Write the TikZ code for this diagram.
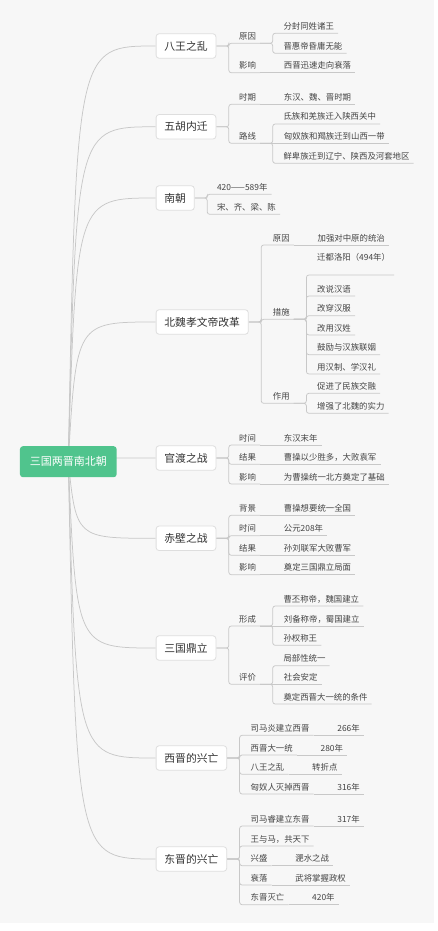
\documentclass[tikz,border=0pt]{standalone}
\usepackage{fontspec}
\setmainfont{Noto Sans CJK SC}
\usetikzlibrary{positioning,backgrounds}
\definecolor{MapPaper}{RGB}{247,247,247}
\definecolor{MapGreen}{RGB}{80,196,141}
\definecolor{MapLine}{RGB}{200,200,200}
\definecolor{MapBorder}{RGB}{222,222,222}
\definecolor{MapText}{RGB}{51,51,51}
\definecolor{MapLeaf}{RGB}{68,68,68}
\newcommand{\rootsize}{\fontsize{11}{13}\selectfont}
\newcommand{\topicsize}{\fontsize{10.8}{13}\selectfont}
\newcommand{\leafsize}{\fontsize{8.4}{10}\selectfont}
\tikzset{
  rootbox/.style={rectangle, rounded corners=3pt, fill=MapGreen, text=white,
    minimum width=96.7pt, minimum height=31pt, font=\rootsize},
  topic/.style={rectangle, rounded corners=3pt, draw=MapBorder, fill=white, line width=0.8pt,
    text=MapText, inner xsep=8.3pt, minimum height=24.5pt, anchor=west, font=\topicsize},
  leaf/.style={text=MapLeaf, inner xsep=4pt, inner ysep=1.8pt, text height=7pt, text depth=2pt,
    anchor=south west, font=\leafsize},
  link/.style={draw=MapLine, line width=0.75pt, rounded corners=2.5pt},
  fork/.style={link, to path={-- ++(12.5,0) |- (\tikztotarget.south west) -- (\tikztotarget.south east)}},
  same/.style={link, to path={-- (\tikztotarget.south east)}},
  curve/.style={link, to path={.. controls (hub |- \tikztotarget.west) .. (\tikztotarget.west)}}
}

\begin{document}
\begin{tikzpicture}[x=1pt, y=-1pt]
  \useasboundingbox (0,0) rectangle (437,931);
  \node[rootbox] (root) at (68.3,461.7) {三国两晋南北朝};
  \coordinate (hub) at (76.3,461.7);
  % topics
  \node[topic] (bw) at (155.7,46) {八王之乱};
  \node[topic] (wh) at (155.7,126.8) {五胡内迁};
  \node[topic] (nc) at (155.7,198) {南朝};
  \node[topic] (xw) at (155.7,322) {北魏孝文帝改革};
  \node[topic] (gd) at (155.7,458) {官渡之战};
  \node[topic] (cb) at (155.7,538.3) {赤壁之战};
  \node[topic] (sg) at (155.7,648) {三国鼎立};
  \node[topic] (xj) at (155.7,758) {西晋的兴亡};
  \node[topic] (dj) at (155.7,859) {东晋的兴亡};
  % 八王之乱
  \node[leaf] (bw1) at (235,43.3) {原因};
  \node[leaf] (bw11) at (279.3,33.3) {分封同姓诸王};
  \node[leaf] (bw12) at (279.3,53.3) {晋惠帝昏庸无能};
  \node[leaf] (bw2) at (235,72.7) {影响};
  \node[leaf, right=19.5pt of bw2] (bw21) {西晋迅速走向衰落};
  % 五胡内迁
  \node[leaf] (wh1) at (235,104.3) {时期};
  \node[leaf, right=19.5pt of wh1] (wh11) {东汉、魏、晋时期};
  \node[leaf] (wh2) at (235,143.3) {路线};
  \node[leaf] (wh21) at (279.3,124) {氐族和羌族迁入陕西关中};
  \node[leaf, right=19.5pt of wh2] (wh22) {匈奴族和羯族迁到山西一带};
  \node[leaf] (wh23) at (279.3,163.3) {鲜卑族迁到辽宁、陕西及河套地区};
  % 南朝
  \node[leaf] (nc1) at (212.8,194.3) {420——589年};
  \node[leaf] (nc2) at (212.8,214.3) {宋、齐、梁、陈};
  % 北魏孝文帝改革
  \node[leaf] (xw1) at (268.7,245) {原因};
  \node[leaf, right=19.5pt of xw1] (xw11) {加强对中原的统治};
  \node[leaf] (xw2) at (268.7,319.3) {措施};
  \node[leaf, text depth=12.3pt] (xw21) at (313,275) {迁都洛阳（494年）};
  \node[leaf] (xw22) at (313,296) {改说汉语};
  \node[leaf] (xw23) at (313,315.7) {改穿汉服};
  \node[leaf] (xw24) at (313,335) {改用汉姓};
  \node[leaf] (xw25) at (313,354.7) {鼓励与汉族联姻};
  \node[leaf] (xw26) at (313,374) {用汉制、学汉礼};
  \node[leaf] (xw3) at (268.7,403.3) {作用};
  \node[leaf] (xw31) at (313,393.3) {促进了民族交融};
  \node[leaf] (xw32) at (313,413.3) {增强了北魏的实力};
  % 官渡之战
  \node[leaf] (gd1) at (235,445) {时间};
  \node[leaf, right=19.5pt of gd1] (gd11) {东汉末年};
  \node[leaf] (gd2) at (235,464.3) {结果};
  \node[leaf, right=19.5pt of gd2] (gd21) {曹操以少胜多，大败袁军};
  \node[leaf] (gd3) at (235,484) {影响};
  \node[leaf, right=19.5pt of gd3] (gd31) {为曹操统一北方奠定了基础};
  % 赤壁之战
  \node[leaf] (cb1) at (235,515.3) {背景};
  \node[leaf, right=19.5pt of cb1] (cb11) {曹操想要统一全国};
  \node[leaf] (cb2) at (235,535.7) {时间};
  \node[leaf, right=19.5pt of cb2] (cb21) {公元208年};
  \node[leaf] (cb3) at (235,555.3) {结果};
  \node[leaf, right=19.5pt of cb3] (cb31) {孙刘联军大败曹军};
  \node[leaf] (cb4) at (235,574.7) {影响};
  \node[leaf, right=19.5pt of cb4] (cb41) {奠定三国鼎立局面};
  % 三国鼎立
  \node[leaf] (sg1) at (235,626) {形成};
  \node[leaf] (sg11) at (279.3,606) {曹丕称帝，魏国建立};
  \node[leaf, right=19.5pt of sg1] (sg12) {刘备称帝，蜀国建立};
  \node[leaf] (sg13) at (279.3,645.3) {孙权称王};
  \node[leaf] (sg2) at (235,684.3) {评价};
  \node[leaf] (sg21) at (279.3,665.7) {局部性统一};
  \node[leaf, right=19.5pt of sg2] (sg22) {社会安定};
  \node[leaf] (sg23) at (279.3,704) {奠定西晋大一统的条件};
  % 西晋的兴亡
  \node[leaf] (xj1) at (246.5,735.3) {司马炎建立西晋};
  \node[leaf, right=19.5pt of xj1] (xj11) {266年};
  \node[leaf] (xj2) at (246.5,755) {西晋大一统};
  \node[leaf, right=19.5pt of xj2] (xj21) {280年};
  \node[leaf] (xj3) at (246.5,774.3) {八王之乱};
  \node[leaf, right=19.5pt of xj3] (xj31) {转折点};
  \node[leaf] (xj4) at (246.5,794) {匈奴人灭掉西晋};
  \node[leaf, right=19.5pt of xj4] (xj41) {316年};
  % 东晋的兴亡
  \node[leaf] (dj1) at (246.5,826) {司马睿建立东晋};
  \node[leaf, right=19.5pt of dj1] (dj11) {317年};
  \node[leaf] (dj2) at (246.5,846) {王与马，共天下};
  \node[leaf] (dj3) at (246.5,865.7) {兴盛};
  \node[leaf, right=19.5pt of dj3] (dj31) {淝水之战};
  \node[leaf] (dj4) at (246.5,885) {衰落};
  \node[leaf, right=19.5pt of dj4] (dj41) {武将掌握政权};
  \node[leaf] (dj5) at (246.5,904.7) {东晋灭亡};
  \node[leaf, right=19.5pt of dj5] (dj51) {420年};

  \begin{scope}[on background layer]
    \fill[white] (0,0) rectangle (437,931);
    \fill[MapPaper] (0,0) rectangle (434,923);
    \path (root.center) edge[curve] (bw) edge[curve] (wh) edge[curve] (nc)
      edge[curve] (xw) edge[curve] (gd) edge[curve] (cb) edge[curve] (sg)
      edge[curve] (xj) edge[curve] (dj);
    \path (bw.east) edge[fork] (bw1) edge[fork] (bw2);
    \path (bw1.south east) edge[fork] (bw11) edge[fork] (bw12);
    \path (bw2.south east) edge[same] (bw21);
    \path (wh.east) edge[fork] (wh1) edge[fork] (wh2);
    \path (wh1.south east) edge[same] (wh11);
    \path (wh2.south east) edge[fork] (wh21) edge[same] (wh22) edge[fork] (wh23);
    \path (nc.east) edge[fork] (nc1) edge[fork] (nc2);
    \path (xw.east) edge[fork] (xw1) edge[fork] (xw2) edge[fork] (xw3);
    \path (xw1.south east) edge[same] (xw11);
    \path (xw2.south east) edge[fork] (xw21) edge[fork] (xw22) edge[fork] (xw23)
      edge[fork] (xw24) edge[fork] (xw25) edge[fork] (xw26);
    \path (xw3.south east) edge[fork] (xw31) edge[fork] (xw32);
    \path (gd.east) edge[fork] (gd1) edge[fork] (gd2) edge[fork] (gd3);
    \path (gd1.south east) edge[same] (gd11);
    \path (gd2.south east) edge[same] (gd21);
    \path (gd3.south east) edge[same] (gd31);
    \path (cb.east) edge[fork] (cb1) edge[fork] (cb2) edge[fork] (cb3) edge[fork] (cb4);
    \path (cb1.south east) edge[same] (cb11);
    \path (cb2.south east) edge[same] (cb21);
    \path (cb3.south east) edge[same] (cb31);
    \path (cb4.south east) edge[same] (cb41);
    \path (sg.east) edge[fork] (sg1) edge[fork] (sg2);
    \path (sg1.south east) edge[fork] (sg11) edge[same] (sg12) edge[fork] (sg13);
    \path (sg2.south east) edge[fork] (sg21) edge[same] (sg22) edge[fork] (sg23);
    \path (xj.east) edge[fork] (xj1) edge[fork] (xj2) edge[fork] (xj3) edge[fork] (xj4);
    \path (xj1.south east) edge[same] (xj11);
    \path (xj2.south east) edge[same] (xj21);
    \path (xj3.south east) edge[same] (xj31);
    \path (xj4.south east) edge[same] (xj41);
    \path (dj.east) edge[fork] (dj1) edge[fork] (dj2) edge[fork] (dj3)
      edge[fork] (dj4) edge[fork] (dj5);
    \path (dj1.south east) edge[same] (dj11);
    \path (dj3.south east) edge[same] (dj31);
    \path (dj4.south east) edge[same] (dj41);
    \path (dj5.south east) edge[same] (dj51);
  \end{scope}
\end{tikzpicture}
\end{document}
